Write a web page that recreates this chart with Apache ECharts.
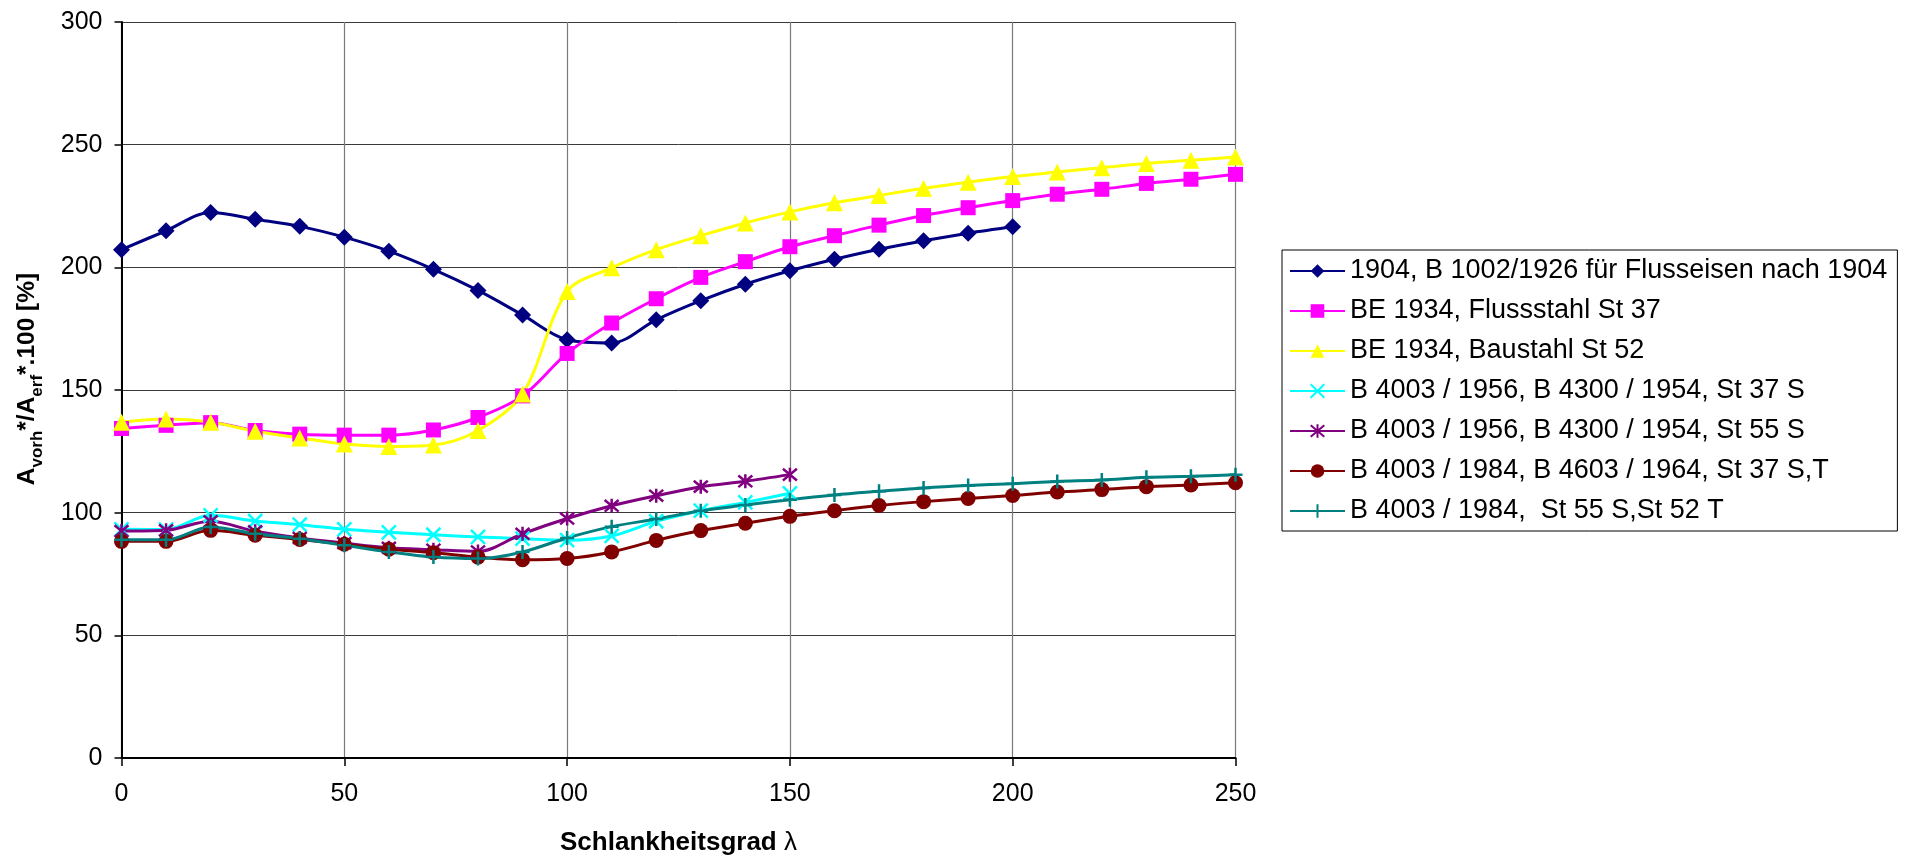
<!DOCTYPE html>
<html>
<head>
<meta charset="utf-8">
<script src="https://cdn.jsdelivr.net/npm/echarts@6/dist/echarts.min.js"></script>
<style>
html,body{margin:0;padding:0;background:#fff;}
#chart{width:1905px;height:861px;}
</style>
</head>
<body>
<div id="chart"></div>
<script>
// Schlankheitsgrad lambda
const lambda = [0,10,20,30,40,50,60,70,80,90,100,110,120,130,140,150,160,170,180,190,200,210,220,230,240,250];

const seriesNames = [
  '1904, B 1002/1926 für Flusseisen nach 1904',
  'BE 1934, Flussstahl St 37',
  'BE 1934, Baustahl St 52',
  'B 4003 / 1956, B 4300 / 1954, St 37 S',
  'B 4003 / 1956, B 4300 / 1954, St 55 S',
  'B 4003 / 1984, B 4603 / 1964, St 37 S,T',
  'B 4003 / 1984,  St 55 S,St 52 T'
];

const s1904 = [207.2,214.9,222.4,219.6,216.7,212.3,206.6,199.2,190.6,180.6,170.5,169.2,178.6,186.4,193.1,198.6,203.3,207.4,210.8,213.9,216.5];
const sBE37 = [134.3,135.6,136.7,133.5,132.0,131.6,131.6,133.7,138.8,147.6,164.9,177.3,187.2,195.9,202.3,208.4,212.9,217.2,221.1,224.3,227.2,229.8,231.8,234.2,235.9,237.9];
const sBE52 = [136.9,138.2,136.9,133.2,130.4,128.0,127.0,127.6,133.5,148.4,190.1,199.8,207.2,212.9,218.1,222.6,226.3,229.3,232.2,234.7,237.0,238.9,240.6,242.3,243.6,245.0];
const s56_37 = [93.2,93.1,98.9,96.6,95.1,93.2,92.0,91.0,90.1,89.4,88.8,90.5,96.5,100.8,104.2,107.9];
const s56_55 = [92.5,92.8,96.5,92.4,89.7,87.6,85.7,84.9,84.2,91.4,97.6,102.8,106.9,110.6,112.8,115.5];
const s84_37 = [88.3,88.3,92.8,90.8,89.1,87.1,85.1,83.7,81.9,80.8,81.3,84.0,88.7,92.7,95.7,98.5,100.8,102.9,104.5,105.8,107.0,108.4,109.4,110.6,111.3,112.2];
const s84_55 = [89.0,89.0,94.2,91.4,89.4,86.7,84.0,81.9,81.3,84.0,89.7,94.3,97.4,100.8,103.1,105.3,107.2,108.7,110.1,111.1,111.8,112.7,113.3,114.4,114.8,115.5];

const yTicks = [0,50,100,150,200,250,300];
const xTicks = [0,50,100,150,200,250];

const FONT = '"Liberation Sans", Arial, sans-serif';

function pairs(vals){ return vals.map((v,i)=>[lambda[i], v]); }

const pathX = 'path://M0,0L10,10M10,0L0,10';
const pathStar = 'path://M0,0L10,10M10,0L0,10M5,-1L5,11';
const pathPlus = 'path://M5,0L5,10M0,5L10,5';

function mk(name, vals, color, symbol, size, hollow){
  const s = {
    name: name,
    type: 'line',
    data: pairs(vals),
    smooth: 0.33,
    symbol: symbol,
    symbolSize: size,
    showSymbol: true,
    lineStyle: {color: color, width: 3},
    itemStyle: {color: color, borderWidth: 0},
    emphasis: {disabled: true},
    animation: false
  };
  if (hollow) {
    s.itemStyle = {color: 'rgba(0,0,0,0)', borderColor: color, borderWidth: 2.5};
  }
  return s;
}

const chart = echarts.init(document.getElementById('chart'), null, {renderer: 'canvas'});
chart.setOption({
  animation: false,
  backgroundColor: '#fff',
  textStyle: {fontFamily: FONT},
  grid: {left: 121.5, top: 22, width: 1114, height: 736, containLabel: false},
  legend: {
    orient: 'vertical',
    left: 1282,
    top: 250,
    backgroundColor: '#fff',
    borderColor: '#000',
    borderWidth: 1,
    borderRadius: 0,
    padding: [6, 10, 5, 7],
    itemGap: 10,
    itemWidth: 55,
    itemHeight: 17,
    textStyle: {fontFamily: FONT, fontSize: 27, color: '#000', lineHeight: 30},
    data: seriesNames
  },
  xAxis: {
    type: 'value',
    min: 0, max: 250, interval: 50,
    name: '{b|Schlankheitsgrad }{l|λ}',
    nameLocation: 'middle',
    nameGap: 72,
    nameTextStyle: {
      rich: {
        b: {fontFamily: FONT, fontSize: 26, fontWeight: 'bold', color: '#000'},
        l: {fontFamily: FONT, fontSize: 26, fontWeight: 'normal', color: '#000'}
      }
    },
    axisLine: {show: true, onZero: false, lineStyle: {color: '#000', width: 2}},
    axisTick: {show: true, length: 8, lineStyle: {color: '#000', width: 1.5}},
    axisLabel: {fontFamily: FONT, fontSize: 25, color: '#000', margin: 24,
      formatter: v => xTicks.includes(v) ? String(v) : ''},
    splitLine: {show: true, lineStyle: {color: '#7a7a7a', width: 1.2}}
  },
  yAxis: {
    type: 'value',
    min: 0, max: 300, interval: 50,
    name: '{b|A}{s|vorh}{b|*/A}{s|erf}{b|*.100 [%]}',
    nameLocation: 'middle',
    nameGap: 76,
    nameTextStyle: {
      padding: [0, 0, 0, 22],
      rich: {
        b: {fontFamily: FONT, fontSize: 24.5, fontWeight: 'bold', color: '#000', verticalAlign: 'bottom', padding: [0,0,6,0]},
        s: {fontFamily: FONT, fontSize: 17, fontWeight: 'bold', color: '#000', verticalAlign: 'bottom'}
      }
    },
    axisLine: {show: true, onZero: false, lineStyle: {color: '#000', width: 2}},
    axisTick: {show: true, length: 7, lineStyle: {color: '#000', width: 1.5}},
    axisLabel: {fontFamily: FONT, fontSize: 25, color: '#000', margin: 19,
      formatter: v => yTicks.includes(v) ? String(v) : ''},
    splitLine: {show: true, lineStyle: {color: '#3a3a3a', width: 1}}
  },
  series: [
    mk(seriesNames[0], s1904, '#000080', 'diamond', 17, false),
    mk(seriesNames[1], sBE37, '#FF00FF', 'rect', 15, false),
    mk(seriesNames[2], sBE52, '#FFFF00', 'triangle', 17, false),
    mk(seriesNames[3], s56_37, '#00FFFF', pathX, 14, true),
    mk(seriesNames[4], s56_55, '#800080', pathStar, 14, true),
    mk(seriesNames[5], s84_37, '#800000', 'circle', 15, false),
    mk(seriesNames[6], s84_55, '#008080', pathPlus, 14, true)
  ]
});
</script>
</body>
</html>
